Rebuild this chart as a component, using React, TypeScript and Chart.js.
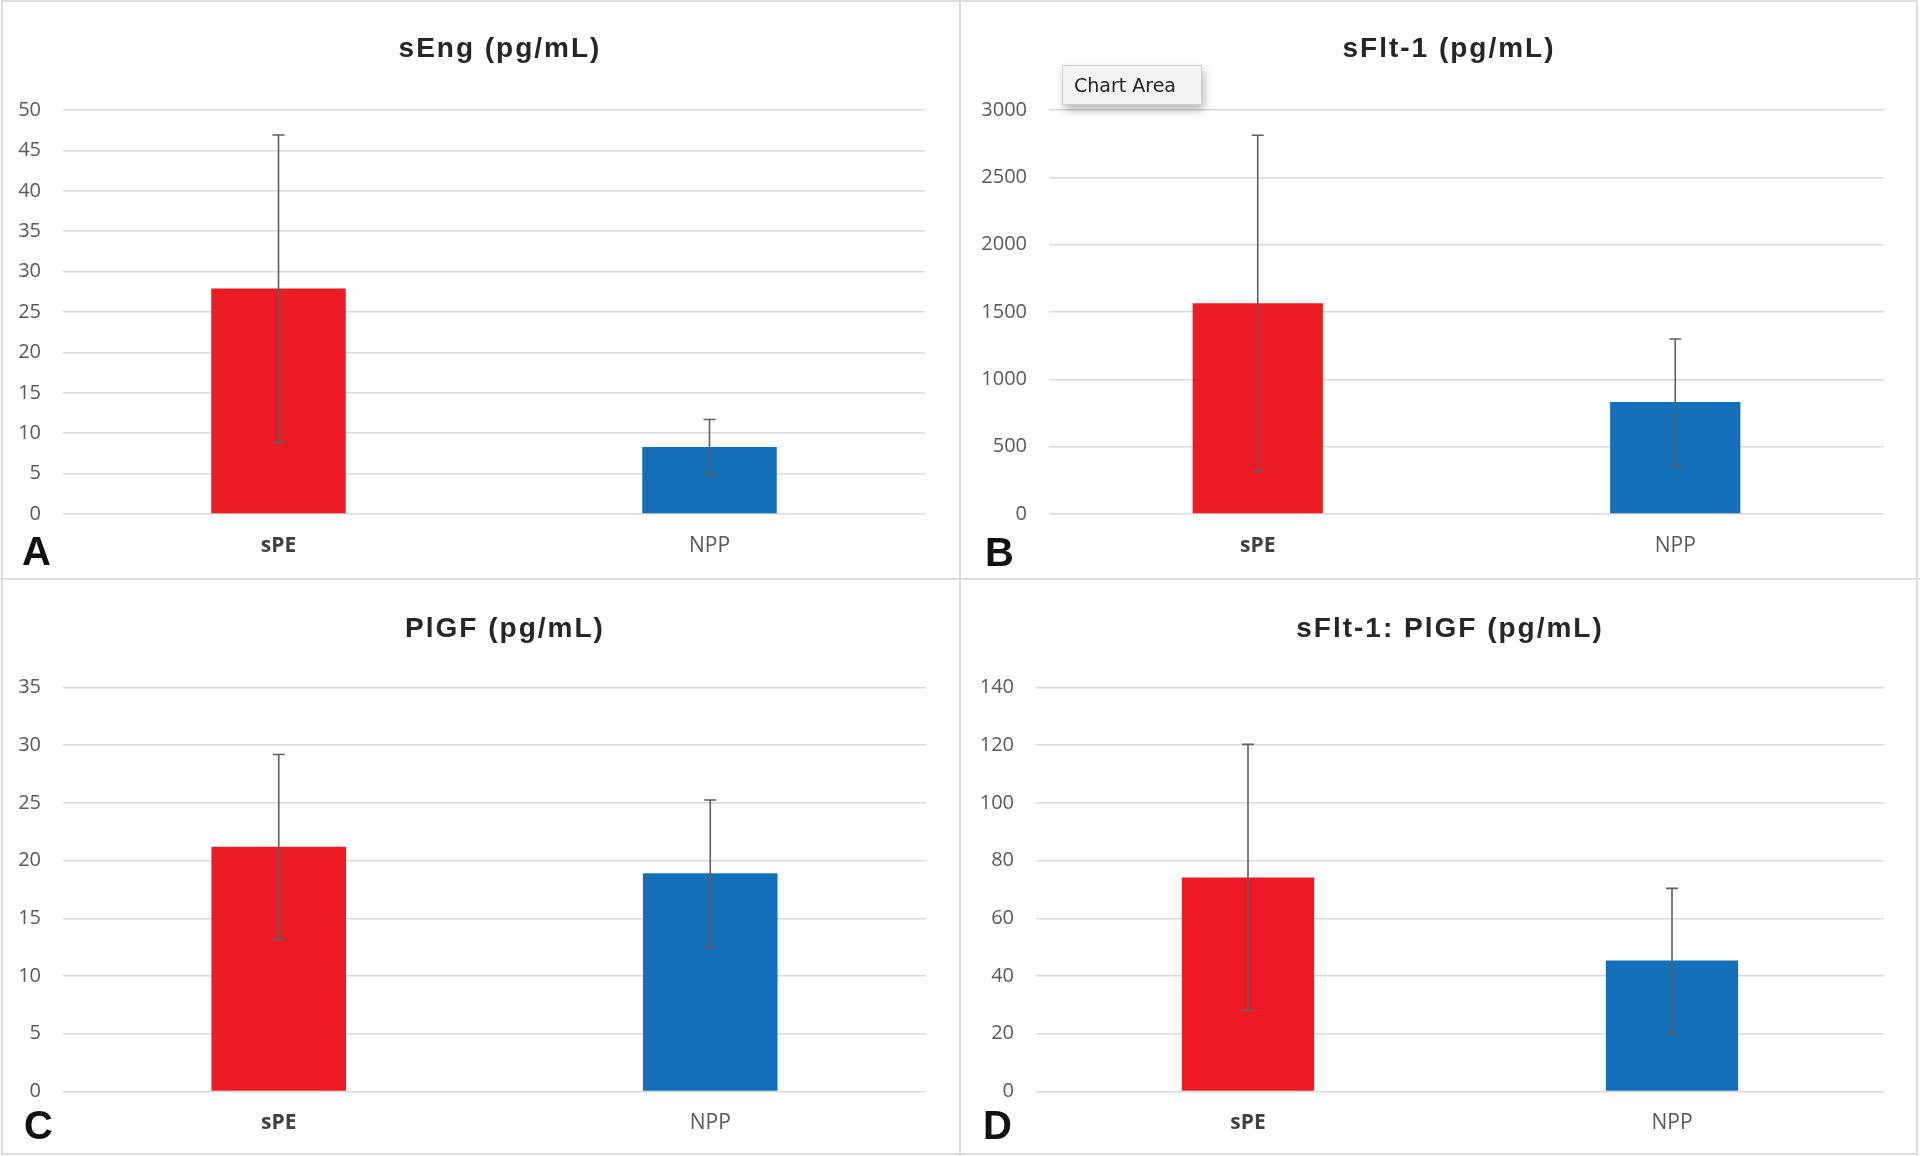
import React, { useEffect, useRef } from "react";
import { Chart, registerables } from "chart.js";

Chart.register(...registerables);

// ---- data ----
const categories = ["sPE", "NPP"];

const sEngMean = [27.9, 8.3];
const sEngSD = [19.0, 3.4];

const sFltMean = [1565, 832];
const sFltSD = [1247, 467];

const plgfMean = [21.2, 18.9];
const plgfSD = [8.0, 6.35];

const ratioMean = [74.2, 45.4];
const ratioSD = [46.1, 25.0];

const titles = ["sEng (pg/mL)", "sFlt-1 (pg/mL)", "PlGF (pg/mL)", "sFlt-1: PlGF (pg/mL)"];
const letters = ["A", "B", "C", "D"];
const yMax = [50, 3000, 35, 140];
const yStep = [5, 500, 5, 20];

const barColors = ["#ED1C24", "#1570BA"];

// ---- layout (styles / positions) ----
type Layout = {
  x: number; y: number; w: number; h: number;
  L: number; R: number; T: number; B: number;
  titleCX: number; titleTop: number; letterX: number; letterTop: number;
};

const layouts: Layout[] = [
  { x: 0, y: 0, w: 959, h: 578, L: 63, R: 925, T: 110, B: 514, titleCX: 500, titleTop: 34, letterX: 22, letterTop: 531 },
  { x: 960, y: 0, w: 958, h: 578, L: 89, R: 924, T: 110, B: 514, titleCX: 489, titleTop: 34, letterX: 25, letterTop: 532 },
  { x: 0, y: 580, w: 959, h: 574, L: 63, R: 926, T: 107.5, B: 511.5, titleCX: 505, titleTop: 34, letterX: 24, letterTop: 525 },
  { x: 960, y: 580, w: 958, h: 574, L: 76, R: 924, T: 107.5, B: 511.5, titleCX: 490, titleTop: 34, letterX: 23, letterTop: 525 },
];

const errorBarPlugin = {
  id: "errorBars",
  afterDatasetsDraw(chart: any, _args: any, opts: any) {
    const meta = chart.getDatasetMeta(0);
    const yScale = chart.scales.y;
    const ctx = chart.ctx;
    const means = chart.data.datasets[0].data as number[];
    const sd = opts.sd as number[];
    ctx.save();
    ctx.strokeStyle = "#5f5f5f";
    ctx.lineWidth = 1.6;
    meta.data.forEach((bar: any, i: number) => {
      const x = bar.x;
      const yt = yScale.getPixelForValue(means[i] + sd[i]);
      const yb = yScale.getPixelForValue(means[i] - sd[i]);
      ctx.beginPath();
      ctx.moveTo(x, yt);
      ctx.lineTo(x, yb);
      ctx.moveTo(x - 6, yt);
      ctx.lineTo(x + 6, yt);
      ctx.moveTo(x - 6, yb);
      ctx.lineTo(x + 6, yb);
      ctx.stroke();
    });
    ctx.restore();
  },
};

function Panel({ idx, means, sd }: { idx: number; means: number[]; sd: number[] }) {
  const ref = useRef<HTMLCanvasElement>(null);
  const lay = layouts[idx];
  useEffect(() => {
    if (!ref.current) return;
    const chart = new Chart(ref.current, {
      type: "bar",
      data: {
        labels: categories,
        datasets: [
          {
            data: means,
            backgroundColor: barColors,
            borderWidth: 0,
            barPercentage: 0.312,
            categoryPercentage: 1,
          },
        ],
      },
      options: {
        responsive: false,
        animation: false,
        devicePixelRatio: 1,
        layout: { padding: { top: lay.T, left: 0, right: lay.w - lay.R, bottom: 0 } },
        plugins: {
          legend: { display: false },
          tooltip: { enabled: false },
          title: { display: false },
          errorBars: { sd },
        } as any,
        scales: {
          x: {
            grid: { display: false, drawTicks: false },
            border: { display: false },
            ticks: {
              padding: 19,
              font: (c: any) => ({
                family: "'Open Sans', sans-serif",
                size: 21,
                weight: c.index === 0 ? "bold" : "normal",
              }),
              color: (c: any) => (c.index === 0 ? "#404040" : "#595959"),
            },
            afterFit: (s: any) => {
              s.height = lay.h - lay.B;
            },
          },
          y: {
            min: 0,
            max: yMax[idx],
            ticks: {
              stepSize: yStep[idx],
              padding: 22,
              color: "#595959",
              font: { family: "'Open Sans', sans-serif", size: 20 },
              callback: (v: any) => String(v),
            },
            grid: { color: "#d9d9d9", lineWidth: 1.6, drawTicks: false },
            border: { display: false },
            afterFit: (s: any) => {
              s.width = lay.L;
            },
          },
        },
      },
      plugins: [errorBarPlugin as any],
    });
    return () => chart.destroy();
  }, []);
  return (
    <div style={{ position: "absolute", left: lay.x, top: lay.y, width: lay.w, height: lay.h }}>
      <canvas ref={ref} width={lay.w} height={lay.h} style={{ position: "absolute", left: 0, top: 0, width: lay.w, height: lay.h }} />
      <div
        style={{
          position: "absolute",
          left: lay.titleCX - 300,
          width: 600,
          top: lay.titleTop,
          textAlign: "center",
          fontFamily: "'Liberation Sans', Arial, sans-serif",
          fontWeight: "bold",
          fontSize: 28,
          lineHeight: "28px",
          letterSpacing: "2px",
          color: "#262626",
          whiteSpace: "nowrap",
        }}
      >
        {titles[idx]}
      </div>
      <div
        style={{
          position: "absolute",
          left: lay.letterX,
          top: lay.letterTop,
          fontFamily: "'Liberation Sans', Arial, sans-serif",
          fontWeight: "bold",
          fontSize: 40,
          lineHeight: "40px",
          color: "#111",
        }}
      >
        {letters[idx]}
      </div>
    </div>
  );
}

export default function App() {
  return (
    <div style={{ position: "fixed", left: 0, top: 0, width: 1920, height: 1156, background: "#fff", overflow: "hidden" }}>
      <Panel idx={0} means={sEngMean} sd={sEngSD} />
      <Panel idx={1} means={sFltMean} sd={sFltSD} />
      <Panel idx={2} means={plgfMean} sd={plgfSD} />
      <Panel idx={3} means={ratioMean} sd={ratioSD} />
      {/* frame and dividers */}
      <div style={{ position: "absolute", left: 1, top: 0, width: 1913, height: 1151, border: "2px solid #dcdcdc" }} />
      <div style={{ position: "absolute", left: 959, top: 0, width: 2, height: 1156, background: "#dcdcdc" }} />
      <div style={{ position: "absolute", left: 0, top: 578, width: 1920, height: 2, background: "#dcdcdc" }} />
      {/* hover label */}
      <div
        style={{
          position: "absolute",
          left: 1062,
          top: 65,
          width: 127,
          height: 38,
          background: "#f4f4f4",
          border: "1px solid #cfcfcf",
          boxShadow: "2px 5px 9px rgba(0,0,0,0.28)",
          fontFamily: "'DejaVu Sans', sans-serif",
          fontSize: 19,
          lineHeight: "38px",
          paddingLeft: 11,
          boxSizing: "content-box",
          color: "#222",
          whiteSpace: "nowrap",
        }}
      >
        Chart Area
      </div>
    </div>
  );
}
